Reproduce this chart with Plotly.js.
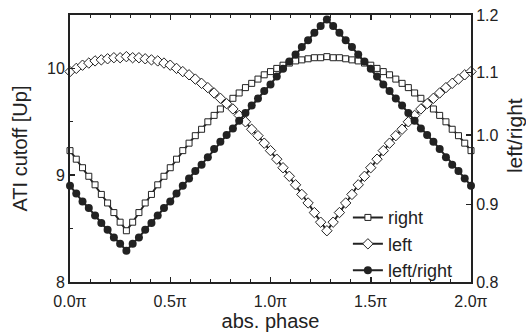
<!DOCTYPE html>
<html>
<head>
<meta charset="utf-8">
<script src="https://cdn.plot.ly/plotly-3.0.1.min.js"></script>
<style>html,body{margin:0;padding:0;background:#fff;}#chart{width:526px;height:334px;}</style>
</head>
<body>
<div id="chart"></div>
<script>
// phase in units of pi (0 .. 2, step 1/32)
const phaseIdx = [0,1,2,3,4,5,6,7,8,9,10,11,12,13,14,15,16,17,18,19,20,21,22,23,24,25,26,27,28,29,30,31,32,
  33,34,35,36,37,38,39,40,41,42,43,44,45,46,47,48,49,50,51,52,53,54,55,56,57,58,59,60,61,62,63,64];
const phase = phaseIdx.map(i => i / 32);

const rightCutoff = [9.23,9.15,9.07,8.99,8.91,8.82,8.74,8.65,8.56,8.48,8.56,8.65,8.74,8.82,8.91,8.99,9.07,9.15,9.23,
  9.30,9.37,9.43,9.50,9.56,9.62,9.67,9.72,9.77,9.82,9.86,9.90,9.94,9.97,10.00,10.03,10.05,10.07,10.08,10.09,10.10,
  10.10,10.11,10.10,10.10,10.09,10.08,10.07,10.05,10.03,10.00,9.97,9.94,9.90,9.86,9.82,9.77,9.72,9.67,9.62,9.56,
  9.50,9.43,9.37,9.30,9.23];

const leftCutoff = [9.97,10.00,10.03,10.05,10.07,10.08,10.09,10.10,10.10,10.11,10.10,10.10,10.09,10.08,10.07,10.05,
  10.03,10.00,9.97,9.94,9.90,9.86,9.82,9.77,9.72,9.67,9.62,9.56,9.50,9.43,9.37,9.30,9.23,9.15,9.07,8.99,8.91,8.82,
  8.74,8.65,8.56,8.48,8.56,8.65,8.74,8.82,8.91,8.99,9.07,9.15,9.23,9.30,9.37,9.43,9.50,9.56,9.62,9.67,9.72,9.77,
  9.82,9.86,9.90,9.94,9.97];

const ratio = [0.926,0.915,0.904,0.895,0.885,0.875,0.866,0.856,0.848,0.839,0.848,0.856,0.866,0.875,0.885,0.895,
  0.904,0.915,0.926,0.936,0.947,0.956,0.967,0.979,0.990,1.000,1.010,1.022,1.034,1.046,1.057,1.069,1.080,1.093,
  1.106,1.118,1.130,1.143,1.155,1.168,1.180,1.192,1.180,1.168,1.155,1.143,1.130,1.118,1.106,1.093,1.080,1.069,
  1.057,1.046,1.034,1.022,1.010,1.000,0.990,0.979,0.967,0.956,0.947,0.936,0.926];

const seriesNames = ['right', 'left', 'left/right'];
const rightTicks = [0.8, 0.9, 1.0, 1.1, 1.2];

const ink = '#222';
const font = 'Arial, "Liberation Sans", Helvetica, sans-serif';

const traces = [
  {x: phase, y: rightCutoff, name: seriesNames[0], type: 'scatter', mode: 'lines+markers', cliponaxis: false,
   line: {color: ink, width: 2}, marker: {symbol: 'square', size: 6, color: '#fff', line: {color: ink, width: 1}}},
  {x: phase, y: leftCutoff, name: seriesNames[1], type: 'scatter', mode: 'lines+markers', cliponaxis: false,
   line: {color: ink, width: 2}, marker: {symbol: 'diamond', size: 8, color: '#fff', line: {color: ink, width: 1}}},
  {x: phase, y: ratio, name: seriesNames[2], yaxis: 'y2', type: 'scatter', mode: 'lines+markers', cliponaxis: false,
   line: {color: ink, width: 2}, marker: {symbol: 'circle', size: 8, color: ink, line: {color: ink, width: 0}}}
];

const layout = {
  width: 526, height: 334,
  margin: {l: 70, r: 55, t: 15, b: 52},
  paper_bgcolor: '#fff', plot_bgcolor: '#fff',
  font: {family: font, size: 16, color: ink},
  showlegend: true,
  legend: {x: 0.693, y: 0.31, xanchor: 'left', yanchor: 'top', bgcolor: 'rgba(0,0,0,0)',
           font: {family: font, size: 18, color: ink}, tracegroupgap: 0},
  xaxis: {range: [0, 2], tick0: 0, dtick: 0.5, tickformat: '.1f', ticksuffix: 'π',
          ticks: 'inside', ticklen: 5, tickwidth: 1.5, tickcolor: ink, ticklabelstandoff: 4,
          showline: true, linewidth: 2, linecolor: ink, mirror: 'ticks', showgrid: false, zeroline: false,
          minor: {dtick: 0.1, ticks: 'inside', ticklen: 3, tickwidth: 1, tickcolor: ink},
          tickfont: {size: 16}, title: {text: 'abs. phase', font: {size: 20}, standoff: 4}},
  yaxis: {range: [8, 10.5], tick0: 8, dtick: 1, ticks: 'inside', ticklen: 5, tickwidth: 1.5, tickcolor: ink,
          showline: true, linewidth: 2, linecolor: ink, mirror: true, showgrid: false, zeroline: false,
          minor: {dtick: 0.5, ticks: 'inside', ticklen: 3, tickwidth: 1, tickcolor: ink},
          tickfont: {size: 16}, title: {text: 'ATI cutoff [Up]', font: {size: 20}, standoff: 14}},
  yaxis2: {overlaying: 'y', side: 'right', type: 'log', range: [Math.log10(0.8), Math.log10(1.2)],
           tickmode: 'array', tickvals: rightTicks, ticktext: rightTicks.map(v => v.toFixed(1)),
           ticks: 'inside', ticklen: 5, tickwidth: 1.5, tickcolor: ink,
           showline: true, linewidth: 2, linecolor: ink, showgrid: false, zeroline: false,
           tickfont: {size: 16}},
  annotations: [{text: 'left/right', xref: 'paper', yref: 'paper', x: 1.107, y: 0.55,
                 xanchor: 'center', yanchor: 'middle', textangle: -90, showarrow: false,
                 font: {family: font, size: 21, color: ink}}]
};

Plotly.newPlot('chart', traces, layout, {displayModeBar: false, staticPlot: true});
</script>
</body>
</html>
